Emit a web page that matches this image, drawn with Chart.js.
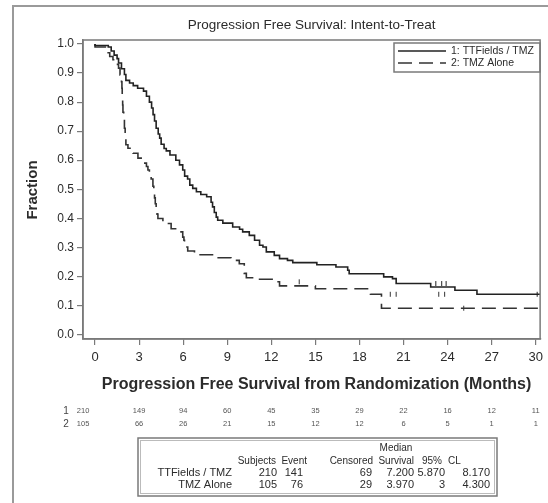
<!DOCTYPE html>
<html>
<head>
<meta charset="utf-8">
<script src="https://cdn.jsdelivr.net/npm/chart.js@4/dist/chart.umd.min.js"></script>
<style>
  html, body { margin: 0; padding: 0; background: #fff; }
  #wrap { width: 548px; height: 503px; position: relative; }
</style>
</head>
<body>
<div id="wrap"><canvas id="km" width="548" height="503"></canvas></div>
<script>
'use strict';

const titleText = 'Progression Free Survival: Intent-to-Treat';
const xTitle = 'Progression Free Survival from Randomization (Months)';
const yTitle = 'Fraction';

const xTicks = [0, 3, 6, 9, 12, 15, 18, 21, 24, 27, 30];
const yTicks = [0, 0.1, 0.2, 0.3, 0.4, 0.5, 0.6, 0.7, 0.8, 0.9, 1.0];

const seriesNames = ['1: TTFields / TMZ', '2: TMZ Alone'];

// TTFields / TMZ (solid)
const ttfTime = [0, 0.9, 1.1, 1.3, 1.5, 1.6, 1.8, 2.0, 2.1, 2.35, 2.6, 2.9, 3.3, 3.5, 3.7, 3.85, 3.95, 4.05, 4.16, 4.3, 4.4, 4.5, 4.7, 4.85, 5.1, 5.5, 5.75, 5.97, 6.1, 6.3, 6.45, 6.65, 6.9, 7.2, 7.6, 7.9, 8.0, 8.12, 8.25, 8.35, 8.7, 9.37, 9.84, 10.05, 10.5, 10.86, 11.2, 11.43, 11.66, 12.2, 12.56, 13.1, 13.46, 15.1, 16.4, 17.2, 17.3, 19.65, 20.25, 20.5, 22.85, 24.5, 26.0, 28.2, 30.3];
const ttfSurv = [1.0, 0.995, 0.99, 0.976, 0.962, 0.95, 0.935, 0.915, 0.895, 0.875, 0.866, 0.857, 0.848, 0.838, 0.82, 0.80, 0.78, 0.757, 0.735, 0.71, 0.69, 0.676, 0.655, 0.64, 0.632, 0.618, 0.6, 0.584, 0.566, 0.545, 0.535, 0.514, 0.503, 0.491, 0.482, 0.474, 0.455, 0.439, 0.42, 0.404, 0.393, 0.383, 0.37, 0.362, 0.353, 0.341, 0.324, 0.307, 0.301, 0.284, 0.272, 0.261, 0.255, 0.247, 0.24, 0.232, 0.221, 0.209, 0.198, 0.192, 0.175, 0.163, 0.152, 0.138, 0.138];
const ttfCensorTime = [23.2, 23.6, 23.9, 30.1];
const ttfCensorSurv = [0.175, 0.175, 0.175, 0.138];

// TMZ Alone (dashed)
const tmzTime = [0, 0.8, 1.0, 1.22, 1.45, 1.6, 1.7, 1.8, 1.83, 1.85, 1.88, 1.9, 1.95, 2.0, 2.05, 2.1, 2.24, 2.58, 2.92, 3.26, 3.5, 3.6, 3.7, 3.82, 3.94, 4.0, 4.05, 4.1, 4.16, 4.22, 4.28, 4.62, 5.18, 5.75, 5.97, 6.05, 6.09, 6.2, 6.31, 6.77, 8.24, 9.25, 9.82, 10.16, 10.3, 11.2, 12.3, 12.56, 15.0, 18.75, 19.5, 24.9, 30.3];
const tmzSurv = [1.0, 0.99, 0.97, 0.957, 0.946, 0.93, 0.917, 0.894, 0.87, 0.848, 0.82, 0.79, 0.765, 0.745, 0.71, 0.676, 0.653, 0.641, 0.624, 0.607, 0.59, 0.578, 0.566, 0.549, 0.535, 0.51, 0.49, 0.47, 0.45, 0.43, 0.414, 0.399, 0.382, 0.364, 0.353, 0.335, 0.324, 0.31, 0.301, 0.287, 0.274, 0.264, 0.255, 0.243, 0.21, 0.195, 0.19, 0.181, 0.167, 0.157, 0.138, 0.09, 0.09];
const tmzCensorTime = [13.9, 20.1, 20.5, 23.4, 23.8, 25.1];
const tmzCensorSurv = [0.181, 0.138, 0.138, 0.138, 0.138, 0.09];

// numbers at risk, one per x tick
const riskLabels = ['1', '2'];
const ttfRisk = [210, 149, 94, 60, 45, 35, 29, 22, 16, 12, 11];
const tmzRisk = [105, 66, 26, 21, 15, 12, 12, 6, 5, 1, 1];

// summary table
const tableGroups = ['TTFields / TMZ', 'TMZ Alone'];
const tabSubjects = ['210', '105'];
const tabEvents = ['141', '76'];
const tabCensored = ['69', '29'];
const tabMedian = ['7.200', '3.970'];
const tabClLow = ['5.870', '3'];
const tabClHigh = ['8.170', '4.300'];

const ink = '#2b2b2b';
const frameGray = '#7a7a7a';
const font = 'Arial, "Liberation Sans", sans-serif';

function toPoints(xs, ys) {
  return xs.map((x, i) => ({ x, y: ys[i] }));
}

const extras = {
  id: 'extras',
  beforeDraw(chart) {
    const ctx = chart.ctx;
    ctx.save();
    ctx.fillStyle = '#fff';
    ctx.fillRect(0, 0, chart.width, chart.height);
    // outer frame
    ctx.strokeStyle = '#9a9a9a';
    ctx.lineWidth = 2;
    ctx.beginPath();
    ctx.moveTo(13, chart.height);
    ctx.lineTo(13, 6);
    ctx.lineTo(chart.width, 6);
    ctx.stroke();
    ctx.restore();
  },
  afterDraw(chart) {
    const { ctx, chartArea: a, scales: { x } } = chart;
    ctx.save();
    // plot frame
    ctx.strokeStyle = frameGray;
    ctx.lineWidth = 1.5;
    ctx.strokeRect(a.left, a.top, a.right - a.left, a.bottom - a.top);

    ctx.fillStyle = ink;
    ctx.textBaseline = 'middle';

    // title
    ctx.textAlign = 'center';
    ctx.font = '13.5px ' + font;
    ctx.fillText(titleText, (a.left + a.right) / 2, 25);

    // x axis title
    ctx.font = 'bold 16px ' + font;
    ctx.fillText(xTitle, (a.left + a.right) / 2 + 5, 385);

    // y axis title
    ctx.save();
    ctx.translate(33, 190);
    ctx.rotate(-Math.PI / 2);
    ctx.font = 'bold 15px ' + font;
    ctx.fillText(yTitle, 0, 0);
    ctx.restore();

    // legend
    const lx = 394, ly = 43, lw = 146, lh = 29;
    ctx.strokeStyle = frameGray;
    ctx.lineWidth = 1.5;
    ctx.strokeRect(lx, ly, lw, lh);
    chart.data.datasets.filter(ds => ds.inLegend).forEach((ds, i) => {
      const yy = ly + 8 + i * 12;
      ctx.strokeStyle = ds.borderColor;
      ctx.lineWidth = ds.borderWidth;
      ctx.setLineDash(ds.borderDash || []);
      ctx.beginPath();
      ctx.moveTo(lx + 4, yy);
      ctx.lineTo(lx + 52, yy);
      ctx.stroke();
      ctx.setLineDash([]);
      ctx.textAlign = 'left';
      ctx.font = '10.5px ' + font;
      ctx.fillStyle = ink;
      ctx.fillText(ds.label, lx + 57, yy + 0.5);
    });

    // numbers at risk
    const riskRows = [ttfRisk, tmzRisk];
    const riskY = [411, 424];
    riskRows.forEach((row, r) => {
      ctx.fillStyle = '#444';
      ctx.textAlign = 'center';
      ctx.font = '10px ' + font;
      ctx.fillText(riskLabels[r], 66, riskY[r]);
      ctx.font = '7.5px ' + font;
      ctx.fillStyle = '#555';
      row.forEach((v, i) => {
        let px = x.getPixelForValue(xTicks[i]);
        if (i === 0) px -= 12;
        ctx.fillText(String(v), px, riskY[r]);
      });
    });

    // summary table
    const tx = 138, ty = 438, tw = 359, th = 58;
    ctx.strokeStyle = frameGray;
    ctx.lineWidth = 1.5;
    ctx.strokeRect(tx, ty, tw, th);
    ctx.strokeStyle = '#bbb';
    ctx.lineWidth = 1;
    ctx.strokeRect(tx + 2.5, ty + 2.5, tw - 5, th - 5);

    ctx.fillStyle = ink;
    ctx.font = '10px ' + font;
    ctx.textAlign = 'center';
    ctx.fillText('Median', 396, 448);
    const hy = 461;
    ctx.textAlign = 'right';
    ctx.fillText('Subjects', 276, hy);
    ctx.fillText('Event', 307, hy);
    ctx.fillText('Censored', 373, hy);
    ctx.fillText('Survival', 414, hy);
    ctx.fillText('95%', 442, hy);
    ctx.textAlign = 'left';
    ctx.fillText('CL', 448, hy);
    ctx.textAlign = 'right';
    const cols = [
      [tabSubjects, 277], [tabEvents, 303], [tabCensored, 372],
      [tabMedian, 414], [tabClLow, 445], [tabClHigh, 490]
    ];
    ctx.font = '11px ' + font;
    tableGroups.forEach((g, r) => {
      const yy = 473 + r * 12;
      ctx.fillText(g, 232, yy);
      cols.forEach(([vals, cx]) => ctx.fillText(vals[r], cx, yy));
    });
    ctx.restore();
  }
};

const censorStyle = { type: 'scatter', showLine: false, pointStyle: 'line', rotation: 90, pointRadius: 2.5, borderWidth: 1, inLegend: false };

new Chart(document.getElementById('km').getContext('2d'), {
  type: 'line',
  data: {
    datasets: [
      { label: seriesNames[0], inLegend: true, data: toPoints(ttfTime, ttfSurv), borderColor: '#222', borderWidth: 1.6, stepped: 'after', pointRadius: 0, fill: false },
      { label: seriesNames[1], inLegend: true, data: toPoints(tmzTime, tmzSurv), borderColor: '#333', borderWidth: 1.6, borderDash: [14, 7], stepped: 'after', pointRadius: 0, fill: false },
      Object.assign({ label: 'c1', data: toPoints(ttfCensorTime, ttfCensorSurv), borderColor: '#222' }, censorStyle),
      Object.assign({ label: 'c2', data: toPoints(tmzCensorTime, tmzCensorSurv), borderColor: '#333' }, censorStyle)
    ]
  },
  options: {
    responsive: false,
    animation: false,
    layout: { padding: { top: 40, right: 6, left: 0, bottom: 0 } },
    plugins: { legend: { display: false }, tooltip: { enabled: false }, title: { display: false } },
    scales: {
      x: {
        type: 'linear', min: -0.82, max: 30.3,
        afterBuildTicks: s => { s.ticks = xTicks.map(v => ({ value: v })); },
        afterFit: s => { s.height = 164; },
        grid: { drawOnChartArea: false, drawTicks: true, tickLength: 6, color: frameGray, lineWidth: 1.2 },
        border: { display: true, color: frameGray, width: 1.5 },
        ticks: { color: ink, font: { family: font, size: 13 }, padding: 5, maxRotation: 0, autoSkip: false }
      },
      y: {
        min: -0.016, max: 1.014,
        afterBuildTicks: s => { s.ticks = yTicks.map(v => ({ value: v })); },
        afterFit: s => { s.width = 83; },
        grid: { drawOnChartArea: false, drawTicks: true, tickLength: 6, color: frameGray, lineWidth: 1.2 },
        border: { display: true, color: frameGray, width: 1.5 },
        ticks: { color: ink, font: { family: font, size: 12 }, padding: 3, callback: v => v.toFixed(1) }
      }
    }
  },
  plugins: [extras]
});
</script>
</body>
</html>
